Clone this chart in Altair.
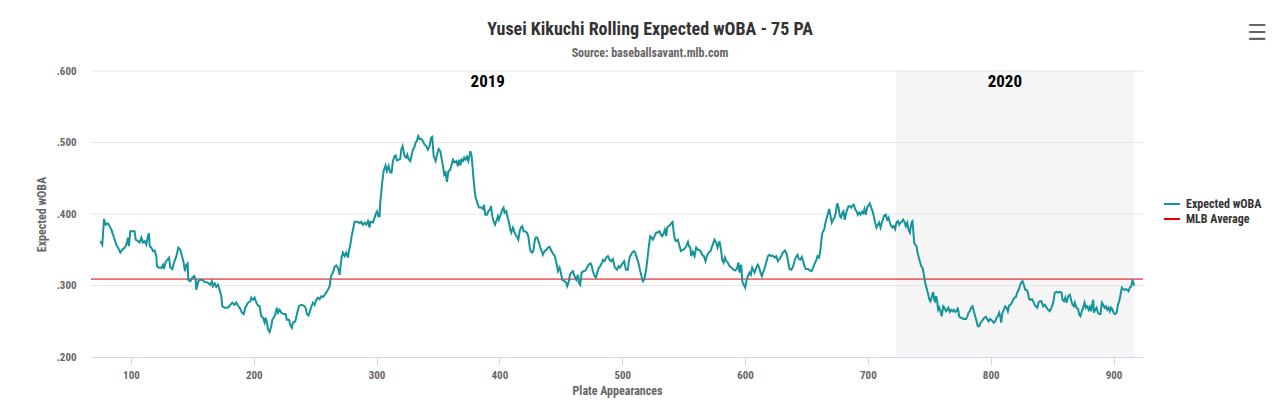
import altair as alt
import pandas as pd

TITLE = "Yusei Kikuchi Rolling Expected wOBA - 75 PA"
SUBTITLE = "Source: baseballsavant.mlb.com"

pa = [
    75.1, 76.7, 78.1, 79.4, 81.3, 82.7, 84.1, 85.4, 86.8, 88.1, 89.5, 91.4, 93.0, 94.9, 96.3, 97.6, 98.4, 99.5,
    101.7, 103.0, 103.9, 105.8, 107.1, 108.5, 109.8, 111.2, 112.5, 113.9, 114.7, 115.3, 116.6, 118.0, 119.3,
    120.7, 121.2, 122.8, 124.8, 126.1, 126.9, 128.3, 129.6, 131.0, 132.1, 133.7, 135.1, 137.0, 138.6, 140.2,
    141.6, 142.9, 144.0, 145.1, 146.2, 146.7, 148.4, 150.0, 151.6, 152.7, 153.2, 154.9, 156.5, 158.1, 160.0,
    162.7, 164.6, 166.0, 166.8, 168.2, 169.5, 170.9, 172.2, 173.6, 174.4, 176.3, 179.0, 180.9, 182.5, 184.4,
    185.8, 187.4, 188.5, 190.4, 191.8, 193.1, 195.3, 197.2, 198.0, 199.4, 200.7, 202.1, 203.4, 204.8, 206.1,
    207.5, 208.9, 209.7, 210.8, 211.6, 212.9, 214.3, 215.1, 217.0, 218.9, 219.7, 221.1, 222.4, 224.3, 226.0,
    227.0, 228.7, 229.7, 231.1, 231.9, 233.8, 235.2, 236.8, 238.7, 240.6, 242.2, 243.3, 244.4, 245.5, 246.8,
    248.2, 249.5, 250.9, 252.3, 253.6, 255.0, 256.3, 257.7, 259.0, 260.4, 261.8, 262.3, 263.1, 264.5, 265.8,
    267.2, 268.5, 269.9, 270.7, 271.5, 272.6, 274.0, 275.3, 276.7, 277.5, 278.6, 279.7, 280.7, 282.1, 284.8,
    286.2, 287.5, 288.9, 290.2, 291.6, 293.0, 294.3, 294.9, 297.0, 298.4, 299.7, 300.5, 301.4, 302.5, 303.0,
    303.8, 304.6, 305.7, 307.3, 308.4, 309.8, 311.1, 312.2, 313.3, 314.6, 315.5, 316.6, 318.2, 319.3, 320.1,
    321.2, 322.0, 322.8, 324.2, 325.0, 326.0, 327.4, 328.5, 329.6, 330.7, 331.8, 332.8, 333.9, 335.0, 336.4,
    337.7, 339.1, 340.4, 341.8, 343.1, 344.5, 345.3,
    346.5, 348.1, 349.2, 350.5, 351.9, 353.0, 354.1, 355.1, 356.2, 357.3, 358.4, 360.0, 361.1, 362.2, 363.5,
    364.9, 366.3, 367.1, 368.2, 369.2, 370.3, 371.4, 372.5, 373.6, 374.7, 375.8, 376.3, 377.4, 378.5, 379.6,
    380.6, 382.0, 383.4, 385.3, 386.6, 387.4, 388.5, 389.9, 391.0, 392.3, 393.1, 394.2, 395.3, 396.4, 397.5,
    398.8, 399.6, 401.0, 402.3, 403.4, 404.2, 405.6, 406.7, 407.8, 408.9, 409.7, 411.0, 412.4, 413.2, 414.6,
    415.4, 416.5, 417.5, 418.6, 419.7, 420.8, 422.4, 423.5, 424.6, 425.4, 426.8, 427.8, 428.7, 429.5, 430.8,
    432.2, 433.3, 434.4, 435.4, 436.8, 438.2, 439.5, 440.9, 442.5, 444.1, 445.2, 446.3, 447.7, 449.0, 450.4,
    451.2, 453.1, 454.4, 455.2, 456.6, 457.4, 458.5, 459.9, 461.2, 462.6, 463.9, 464.7, 465.8, 466.9, 468.5,
    470.2, 471.3, 472.6, 474.2, 475.3, 476.1, 477.5, 478.6, 479.7, 481.0, 482.1, 483.5, 484.3, 485.6, 487.0,
    488.3, 489.7, 491.1, 492.4, 493.2, 494.0, 495.7, 497.0, 498.1, 499.2, 500.6, 501.6, 503.0, 504.6, 505.4,
    506.5, 508.1, 509.5, 510.6, 511.4, 512.8, 513.6, 514.7, 515.7, 516.8, 517.9, 519.5, 520.9, 521.7, 522.8,
    523.9, 525.0, 526.3, 527.7, 529.0, 530.4, 531.5, 532.6, 533.9, 534.7, 535.8, 536.6, 537.7, 539.1, 540.2,
    541.0, 541.8, 542.9, 544.0, 545.3, 546.7, 547.8, 549.4, 550.7, 552.1, 553.5, 554.3, 555.4, 556.2, 557.5,
    558.9, 560.2, 561.6, 563.5, 565.1, 566.5, 567.8, 568.9, 570.3, 571.9, 573.3, 575.2, 576.5, 577.6, 579.2,
    580.6, 581.4, 582.5, 583.6, 584.7, 586.0, 587.4, 589.0, 590.6, 592.0, 593.3, 594.7, 595.5, 596.9, 597.7,
    599.0, 600.1, 601.2, 602.3, 603.6, 604.7, 605.8, 607.7, 609.1, 610.4, 611.5, 612.6, 613.7, 614.5, 615.6,
    617.2, 618.6, 619.9, 621.3, 622.6, 624.0, 625.4, 626.7, 628.1, 629.4, 630.8, 632.4, 633.5, 634.3, 635.7,
    636.2,
    637.8, 639.2, 640.5, 641.9, 642.7, 643.8, 645.1, 646.2, 647.3, 648.4, 649.5, 651.4, 652.7, 654.1, 655.4,
    656.8, 658.2, 659.0, 660.3, 661.4, 662.2, 663.0, 664.4, 665.5, 666.6, 667.7, 668.5, 669.6, 670.6, 671.7,
    672.8, 673.9, 675.0, 676.1, 677.2, 678.2, 679.3, 680.1, 681.2, 682.0, 683.1, 684.2, 685.3, 686.4, 687.5,
    688.6, 689.6, 690.7, 691.8, 692.9, 694.0, 695.1, 696.2, 697.2, 698.3, 699.4, 700.5, 701.6, 702.7, 703.8,
    704.8, 705.9, 707.0, 708.1, 709.2, 710.3, 711.4, 712.4, 713.3, 714.6, 715.7, 716.8, 717.9, 719.0, 720.1,
    721.1, 722.2, 723.3, 724.4, 725.5, 726.6, 727.6, 728.7, 729.8, 730.9, 732.0, 733.1, 734.2, 735.0, 735.8,
    736.3, 736.9, 737.7, 738.5, 739.6, 740.4, 741.2, 742.3, 743.4, 744.5, 745.6, 746.6, 747.7, 748.8, 749.9,
    751.0, 752.1, 753.2, 754.0, 754.8, 755.6, 756.4, 757.2, 758.1, 759.1, 760.2, 761.3, 762.4, 763.5, 764.6,
    765.6, 766.7, 767.8, 768.9, 770.0, 771.1, 772.2, 773.3, 774.3, 775.4, 776.5, 777.6, 778.7, 779.8, 780.9,
    781.9, 783.0, 784.1, 785.2, 786.3, 787.4, 788.5, 789.5, 790.6, 791.7, 792.8, 793.9, 795.0, 796.1, 797.1,
    798.2, 799.3, 800.4, 801.5, 802.6, 803.7, 804.7, 805.8, 806.9, 808.0, 808.5, 809.6, 810.7, 811.8, 812.9,
    814.0, 815.1, 816.1, 817.2, 818.3, 819.4, 820.5, 821.6, 822.7, 823.7, 824.8, 825.9, 827.0, 828.1, 829.2,
    830.3, 831.3, 832.4, 833.5, 834.6, 835.7, 836.8, 837.9, 838.9, 840.0,
    841.4, 842.7, 844.1, 845.5, 846.8, 848.2, 849.5, 850.9, 852.2, 853.6, 854.9, 856.3, 857.7, 858.5, 859.6,
    860.7, 861.7, 863.1, 864.5, 865.8, 866.6, 867.7, 868.5, 869.9, 871.2, 872.1, 873.1, 874.2, 875.3, 876.4,
    877.5, 878.6, 879.7, 880.7, 881.6, 882.4, 883.5, 884.0, 885.1, 886.2, 887.3, 888.4, 889.4, 890.5, 891.6,
    892.7, 893.8, 894.9, 896.0, 897.0, 898.1, 899.2, 900.3, 901.4, 902.5, 903.6, 904.6, 905.7, 906.8, 907.9,
    909.0, 910.1, 911.2, 912.2, 913.3, 914.4, 915.5, 916.6, 917.1,
]

xwoba = [
    .362, .357, .393, .385, .387, .383, .378, .371, .364, .357, .353, .346, .350, .353, .357, .367, .355, .376,
    .376, .376, .364, .362, .360, .367, .360, .362, .357, .369, .373, .355, .353, .348, .349,
    .341, .327, .325, .325, .329, .323, .333, .336, .339, .325, .323, .332, .341, .353, .350,
    .341, .332, .320, .329, .331, .308, .306, .311, .313, .308, .294, .306, .308, .308, .305,
    .304, .301, .306, .299, .303, .298, .301, .294, .285, .271, .269, .269, .273, .276, .273,
    .276, .271, .269, .262, .260, .269, .276, .278, .283, .280, .283, .276, .272, .271, .257,
    .255, .248, .255, .248, .239, .235, .243, .252, .257, .269, .262, .266, .262, .260, .260,
    .252, .252, .245, .241, .248, .250, .260, .271, .273, .272, .269, .260, .258, .262, .270,
    .276, .273, .280, .283, .281, .285, .284, .287, .290, .294, .299, .306, .314, .318, .326,
    .328, .325, .315, .327, .339, .346, .341, .346, .339, .348, .357, .369, .377, .389, .389,
    .387, .389, .385, .388, .385, .390, .381, .389, .388, .395, .402, .404, .397, .397, .416,
    .430, .444, .460, .468, .460, .467, .458, .458, .474, .481, .482, .475, .476, .477, .490,
    .495, .488, .481, .479, .483, .477, .474, .482, .490, .493, .500, .502, .509, .505, .505,
    .502, .497, .495, .490, .495, .507, .508,
    .481, .474, .483, .491, .488, .477, .467, .455, .458, .445, .459, .462, .469, .476, .472,
    .474, .467, .476, .468, .476, .474, .479, .476, .480, .474, .483, .488, .481, .458, .437,
    .423, .416, .409, .409, .407, .413, .399, .399, .404, .406, .411, .397, .390, .385, .390,
    .397, .392, .399, .406, .409, .402, .404, .395, .388, .378, .374, .381, .374, .371, .367,
    .364, .376, .381, .383, .376, .376, .374, .369, .355, .348, .346, .350, .362, .367, .367,
    .360, .353, .348, .343, .348, .350, .353, .354, .348, .343, .341, .332, .320, .325, .315,
    .308, .306, .304, .299, .306, .315, .318, .320, .313, .308, .315, .304, .301, .318, .320,
    .321, .325, .329, .331, .327, .320, .313, .311, .318, .325, .327, .332, .336, .334, .339,
    .341, .336, .334, .337, .331, .325, .322, .327, .325, .328, .332, .334, .322, .322, .334,
    .341, .346, .348, .346, .341, .334, .329, .320, .313, .306, .308, .322, .343, .355, .369,
    .367, .364, .369, .374, .374, .376, .371, .369, .374, .378, .369, .381, .383, .385, .388,
    .389, .376, .364, .362, .364, .355, .348, .350, .351, .355, .361, .355, .353, .341, .347,
    .341, .353, .350, .349, .343, .341, .334, .341, .346, .348, .355, .364, .360, .353, .362,
    .348, .336, .332, .339, .334, .332, .327, .325, .322, .321, .323, .332, .318, .329, .306,
    .301, .297, .307, .313, .318, .315, .325, .318, .325, .329, .325, .318, .313, .318, .322,
    .332, .341, .343, .341, .342, .339, .341, .334, .337, .341, .346, .349, .346, .341, .327,
    .323,
    .322, .327, .336, .341, .343, .337, .336, .340, .334, .327, .323, .323, .321, .320, .325,
    .331, .336, .341, .339, .350, .364, .374, .378, .388, .395, .402, .407, .397, .388, .392,
    .395, .402, .415, .409, .397, .395, .402, .404, .392, .399, .406, .411, .411, .409, .412,
    .413, .407, .404, .399, .402, .399, .403, .401, .407, .399, .409, .412, .415, .409, .404,
    .397, .388, .381, .385, .388, .381, .388, .393, .398, .399, .392, .395, .388, .383, .381,
    .383, .379, .388, .390, .385, .388, .389, .392, .389, .383, .388, .378, .374, .383, .389,
    .390, .378, .360, .357, .355, .346, .341, .334, .327, .325, .315, .304, .297, .290, .281,
    .278, .285, .291, .280, .278, .285, .278, .266, .269, .264, .257, .271, .269, .264, .266,
    .269, .263, .266, .264, .266, .263, .264, .269, .257, .255, .255, .253, .253, .253, .256,
    .262, .264, .269, .271, .264, .257, .250, .243, .243, .248, .250, .253, .255, .256, .253,
    .250, .253, .252, .250, .248, .250, .255, .257, .262, .255, .248, .262, .266, .271, .269,
    .264, .272, .273, .276, .280, .283, .284, .290, .294, .299, .304, .306, .301, .294, .294,
    .290, .281, .280, .281, .278, .273, .271, .269, .276, .278,
    .278, .271, .273, .269, .266, .264, .269, .276, .290, .291, .290, .291, .290, .280, .278,
    .283, .276, .285, .287, .278, .273, .271, .276, .269, .267, .259, .257, .264, .269, .276,
    .269, .271, .266, .270, .264, .271, .280, .262, .266, .269, .262, .260, .260, .276, .273,
    .269, .271, .266, .269, .264, .269, .266, .261, .260, .262, .273, .278, .287, .297, .295,
    .294, .295, .294, .292, .297, .299, .308, .301, .300,
]

SERIES = ["Expected wOBA", "MLB Average"]
mlb_average = [0.309]
band_2020 = [723, 917]
season_labels = ["2019", "2020"]
season_label_pa = [390.5, 811.5]
x_domain = [67.5, 924]
y_domain = [0.2, 0.6]
y_grid = [0.3, 0.4, 0.5, 0.6]
x_ticks = [100, 200, 300, 400, 500, 600, 700, 800, 900]
y_ticks = [0.2, 0.3, 0.4, 0.5, 0.6]

TEAL = "#15959a"
RED = "#dd0000"
FONT = "Liberation Sans Narrow, Roboto Condensed, DejaVu Sans Condensed, Liberation Sans, sans-serif"

W, H = 1052, 286

xs = alt.Scale(domain=x_domain, nice=False, zero=False)
ys = alt.Scale(domain=y_domain, nice=False, zero=False)
cs = alt.Scale(domain=SERIES, range=[TEAL, RED])

XAXIS = alt.Axis(
    title="Plate Appearances",
    values=x_ticks,
    grid=False,
    domainColor="#ccd6eb",
    tickColor="#ccd6eb",
    tickSize=8,
    labelPadding=4,
    labelFont=FONT,
    labelFontSize=11,
    labelFontWeight="bold",
    labelColor="#666666",
    titleFont=FONT,
    titleFontSize=12,
    titleFontWeight="bold",
    titleColor="#666666",
    titlePadding=5,
    zindex=1,
)
YAXIS = alt.Axis(
    title="Expected wOBA",
    values=y_ticks,
    grid=False,
    domain=False,
    ticks=False,
    labelExpr="replace(format(datum.value, '.3f'), '0.', '.')",
    labelPadding=15,
    labelFont=FONT,
    labelFontSize=11,
    labelFontWeight="bold",
    labelColor="#666666",
    titleFont=FONT,
    titleFontSize=12,
    titleFontWeight="bold",
    titleColor="#666666",
    titlePadding=8,
)
LEGEND = alt.Legend(
    title=None,
    orient="none",
    legendX=1072,
    legendY=124,
    symbolType="stroke",
    symbolSize=256,
    symbolStrokeWidth=2,
    labelFont=FONT,
    labelFontSize=12,
    labelFontWeight="bold",
    labelColor="#333333",
    labelOffset=5,
    rowPadding=0,
    padding=0,
)

line_df = pd.DataFrame({"pa": pa, "xwoba": xwoba, "series": SERIES[0]})
avg_df = pd.DataFrame({"xwoba": mlb_average, "series": SERIES[1]})
band_df = pd.DataFrame({"pa": [band_2020[0]], "end": [band_2020[1]]})
grid_df = pd.DataFrame({"xwoba": y_grid})
season_df = pd.DataFrame({"label": season_labels, "pa": season_label_pa})

band = alt.Chart(band_df).mark_rect(color="#f5f5f5").encode(
    x=alt.X("pa:Q", scale=xs, axis=XAXIS),
    x2="end:Q",
    y=alt.value(0),
    y2=alt.value(H),
)

grid = alt.Chart(grid_df).mark_rule(color="#e6e6e6", strokeWidth=1).encode(
    y=alt.Y("xwoba:Q", scale=ys, axis=YAXIS)
)

avg = alt.Chart(avg_df).mark_rule(strokeWidth=1).encode(
    y=alt.Y("xwoba:Q", scale=ys, axis=YAXIS),
    color=alt.Color("series:N", scale=cs, legend=LEGEND),
)

line = alt.Chart(line_df).mark_line(strokeWidth=2, interpolate="linear").encode(
    x=alt.X("pa:Q", scale=xs, axis=XAXIS),
    y=alt.Y("xwoba:Q", scale=ys, axis=YAXIS),
    color=alt.Color("series:N", scale=cs, legend=LEGEND),
)

seasons = alt.Chart(season_df).mark_text(
    font=FONT, fontSize=17, fontWeight="bold", color="#000000", baseline="middle"
).encode(
    x=alt.X("pa:Q", scale=xs, axis=XAXIS),
    y=alt.value(11),
    text="label:N",
)

title = alt.Chart(pd.DataFrame({"t": [TITLE]})).mark_text(
    font=FONT, fontSize=18, fontWeight="bold", color="#333333", baseline="middle", align="center"
).encode(x=alt.value(559), y=alt.value(-41), text="t:N")

subtitle = alt.Chart(pd.DataFrame({"t": [SUBTITLE]})).mark_text(
    font=FONT, fontSize=12, fontWeight="bold", color="#666666", baseline="middle", align="center"
).encode(x=alt.value(559), y=alt.value(-18), text="t:N")

menu = alt.Chart(pd.DataFrame({"t": ["\u2630"]})).mark_text(
    font="DejaVu Sans", fontSize=22, fontWeight="bold", color="#666666", baseline="middle", align="center"
).encode(x=alt.value(1166), y=alt.value(-38), text="t:N")

chart = alt.layer(band, grid, avg, line, seasons, title, subtitle, menu).properties(
    width=W,
    height=H,
    padding={"left": 83, "top": 63, "right": 130, "bottom": 50},
    autosize=alt.AutoSizeParams(type="none"),
    background="#ffffff",
).configure_view(strokeWidth=0)

chart.save("out.html", embed_options={"renderer": "svg", "actions": False})
